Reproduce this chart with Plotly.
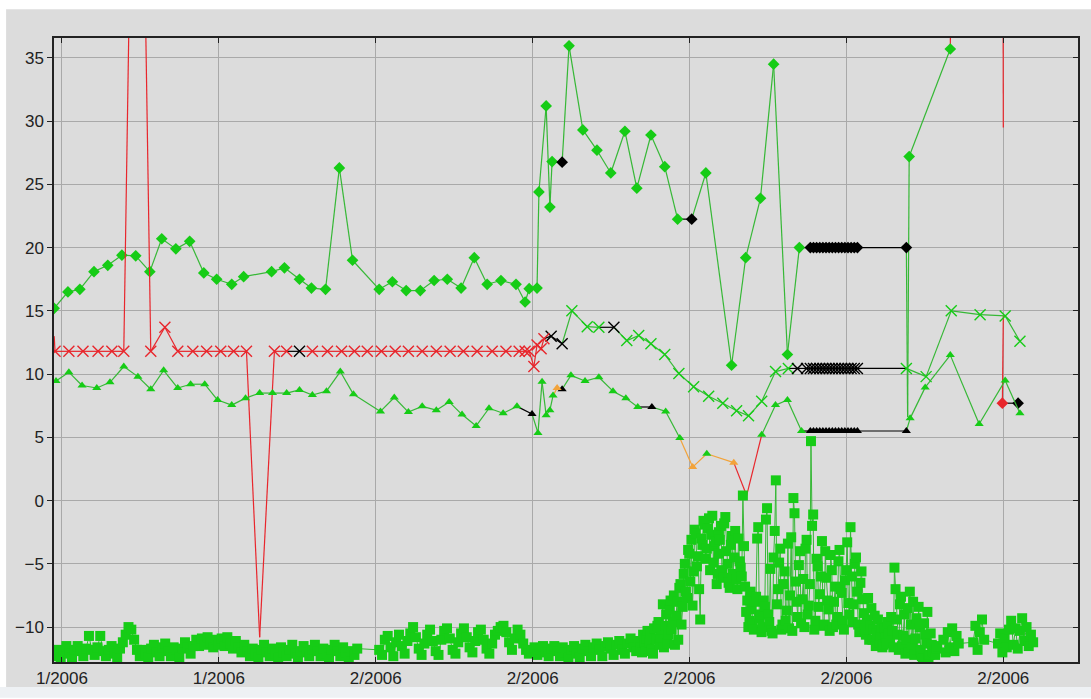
import plotly.graph_objects as go

# ---------------- styling constants ----------------
GREEN_M = "#16cc16"
GREEN_L = "#36b836"
RED = "#e8262c"
ORANGE = "#f2a33a"
BLACK = "#000000"
MCOL = {"g": GREEN_M, "k": BLACK, "r": RED, "o": ORANGE}
LCOL = {"g": GREEN_L, "k": BLACK, "r": RED, "o": ORANGE}
BG = "#dcdcdc"
GRID = "#a9a9a9"
FONT = "Liberation Sans"

# ---------------- axis data ----------------
tick_days = [0, 5, 10, 15, 20, 25, 30]
tick_labels = ["1/2006", "1/2006", "2/2006", "2/2006", "2/2006", "2/2006", "2/2006"]
y_ticks = [-10, -5, 0, 5, 10, 15, 20, 25, 30, 35]

# shared timestamps of the dense black (flagged) block
bar_t = [23.85, 23.95, 24.05, 24.15, 24.25, 24.35, 24.45, 24.55,
         24.65, 24.75, 24.85, 24.95, 25.05, 25.15, 25.25, 25.35]

# ---------------- diamond series ----------------
dia_t1 = [-0.25, 0.19, 0.57, 1.02, 1.46, 1.91, 2.35, 2.80, 3.18, 3.63, 4.07, 4.52, 4.93, 5.41, 5.79,
          6.68, 7.09, 7.57, 7.95, 8.40, 8.84, 9.26, 10.11, 10.53, 10.97, 11.42, 11.86, 12.28, 12.72,
          13.14, 13.55, 13.99, 14.47, 14.76, 14.89, 15.14, 15.20, 15.43, 15.55, 15.62, 15.94, 16.16,
          16.60, 17.05, 17.49, 17.94, 18.32, 18.77, 19.21, 19.62, 20.07, 20.52, 21.34, 21.79, 22.26,
          22.68, 23.12, 23.50]
dia_v1 = [15.2, 16.5, 16.7, 18.1, 18.6, 19.4, 19.35, 18.1, 20.7, 19.9, 20.5, 18.0, 17.5, 17.1, 17.7,
          18.1, 18.4, 17.5, 16.8, 16.7, 26.3, 19.0, 16.7, 17.3, 16.6, 16.6, 17.4, 17.5, 16.8,
          19.2, 17.1, 17.4, 17.1, 15.7, 16.75, 16.8, 24.4, 31.2, 23.2, 26.8, 26.75, 35.95,
          29.3, 27.7, 25.9, 29.2, 24.7, 28.9, 26.4, 22.25, 22.25, 25.9, 10.7, 19.2, 23.9,
          34.5, 11.55, 20.0]
dia_m1 = "g" * 40 + "k" + "g" * 9 + "k" + "g" * 7
dia_l1 = dia_m1
dia_vbar = [20.0, 20.0, 20.0, 20.0, 20.0, 20.0, 20.0, 20.0,
            20.0, 20.0, 20.0, 20.0, 20.0, 20.0, 20.0, 20.0]
dia_t3 = [26.91, 26.95, 27.00, 28.31, 28.40, 29.98, 30.00, 30.00, 30.00, 29.97, 30.47]
dia_v3 = [20.0, 6.6, 27.2, 35.7, 60.0, 60.0, 29.5, None, 14.6, 7.7, 7.7]
dia_m3 = "knggnnnnnrk"
dia_l3 = "kgggrrrnrrk"

# ---------------- cross (x) series ----------------
x_t1 = [-0.25, -0.22, 0.22, 0.67, 1.15, 1.59, 1.97, 2.40, 2.83, 3.28, 3.69, 4.17, 4.61, 5.06, 5.47,
        5.88, 6.30, 6.77, 7.16, 7.57, 7.98, 8.46, 8.91, 9.32, 9.73, 10.18, 10.62, 11.04, 11.48,
        11.93, 12.37, 12.79, 13.23, 13.71, 14.15, 14.57, 14.76, 14.89, 15.04, 15.14, 15.27, 15.36,
        15.59, 15.94, 16.25, 16.74, 17.11, 17.59, 18.00, 18.38, 18.77, 19.21, 19.66, 20.13, 20.61,
        21.06, 21.50, 21.88, 22.30, 22.74, 23.15, 23.44, 23.73]
x_v1 = [13.0, 11.8, 11.8, 11.8, 11.8, 11.8, 11.8, 80.0, 11.8, 13.7, 11.8, 11.8, 11.8, 11.8, 11.8,
        11.8, -10.8, 11.8, 11.8, 11.8, 11.8, 11.8, 11.8, 11.8, 11.8, 11.8, 11.8, 11.8, 11.8,
        11.8, 11.8, 11.8, 11.8, 11.8, 11.8, 11.8, 11.8, 11.8, 10.6, 12.3, 12.0, 12.8,
        13.0, 12.4, 15.0, 13.75, 13.7, 13.7, 12.65, 13.05, 12.4, 11.55, 10.05, 9.0, 8.25,
        7.7, 7.1, 6.7, 7.85, 10.2, 10.45, 10.45, 10.45]
x_m1 = "n" + "r" * 6 + "n" + "r" * 8 + "n" + "rr" + "k" + "r" * 22 + "kk" + "ggg" + "k" + "g" * 13 + "kk"
x_l1 = "r" * 19 + "k" + "r" * 22 + "kk" + "ggg" + "k" + "g" * 13 + "kk"
x_vbar = [10.45, 10.45, 10.45, 10.45, 10.45, 10.45, 10.45, 10.45,
          10.45, 10.45, 10.45, 10.45, 10.45, 10.45, 10.45, 10.45]
x_t3 = [26.91, 27.54, 28.34, 29.26, 30.06, 30.53]
x_v3 = [10.45, 9.8, 15.0, 14.7, 14.6, 12.6]
x_m3 = "gggggg"
x_l3 = "kggggg"

# ---------------- triangle series ----------------
tri_t1 = [-0.19, 0.22, 0.64, 1.11, 1.53, 1.97, 2.42, 2.83, 3.24, 3.69, 4.10, 4.55, 4.96, 5.41, 5.85,
          6.30, 6.71, 7.16, 7.57, 7.98, 8.43, 8.87, 9.29, 10.15, 10.59, 11.04, 11.48, 11.93, 12.34,
          12.75, 13.20, 13.61, 14.06, 14.50, 14.98, 15.17, 15.30, 15.43, 15.55, 15.65, 15.78, 15.94,
          16.22, 16.67, 17.11, 17.56, 17.97, 18.35, 18.80, 19.24, 19.69, 20.10, 20.55, 21.41, 21.82,
          22.30, 22.74, 23.12, 23.57]
tri_v1 = [9.45, 10.15, 9.1, 8.9, 9.35, 10.6, 9.8, 8.8, 10.3, 8.9, 9.2, 9.2, 7.95, 7.55, 8.1,
          8.5, 8.5, 8.5, 8.75, 8.35, 8.65, 10.2, 8.4, 7.05, 8.15, 7.0, 7.45, 7.15, 7.8,
          6.8, 5.9, 7.3, 6.9, 7.45, 6.85, 5.35, 9.4, 6.75, 7.15, 8.3, 8.9, 8.8,
          9.9, 9.45, 9.75, 8.65, 8.1, 7.4, 7.4, 7.05, 4.95, 2.65, 3.7, 3.0, 0.4,
          5.2, 7.55, 7.95, 5.5]
tri_m1 = "g" * 34 + "k" + "g" * 5 + "o" + "k" + "g" * 6 + "k" + "gg" + "o" + "g" + "o" + "n" + "g" * 4
tri_l1 = "g" * 34 + "k" + "g" * 5 + "o" + "k" + "g" * 6 + "k" + "gg" + "ooo" + "rr" + "g" * 3
tri_vbar = [5.5, 5.5, 5.5, 5.5, 5.5, 5.5, 5.5, 5.5,
            5.5, 5.5, 5.5, 5.5, 5.5, 5.5, 5.5, 5.5]
tri_t3 = [26.91, 27.03, 27.51, 28.31, 29.23, 30.06, 30.53]
tri_v3 = [5.5, 6.5, 8.95, 11.5, 6.05, 9.5, 6.9]
tri_m3 = "kgggggg"
tri_l3 = "kgggggg"

# ---------------- square series (dense readings) ----------------
# each run: (start day, sampling step in days, values); runs may interleave in time
sqA_start, sqA_step = -0.22, 0.09
sqA = [-12.3, -11.8, -12.4, -11.9, -11.5, -12.1, -12.4, -11.8, -11.5, -11.9,
       -12.3, -11.7, -10.7, -11.8, -12.2, -11.6, -10.7, -11.9, -12.3, -11.8,
       -11.5, -12.1, -12.4, -11.7, -11.2, -10.6, -10.0, -10.2, -11.0, -11.8,
       -12.3, -11.8, -12.1, -12.4, -11.7, -11.4, -12.0, -12.3, -11.6, -11.3,
       -11.9, -12.3, -11.6, -11.8, -12.4, -11.7, -11.2, -11.6, -12.1, -11.5,
       -11.0, -11.5, -10.9, -11.4, -10.8, -11.2, -11.6, -11.0, -11.4, -10.9,
       -11.5, -10.8, -11.3, -11.7, -11.1, -11.6, -12.0, -11.4, -11.9, -12.3,
       -11.7, -12.1, -12.4, -11.8, -11.4, -12.0, -12.3, -11.7, -12.1, -12.4,
       -11.6, -12.0, -12.3, -11.8, -11.4, -12.1, -12.4, -11.9, -11.5, -12.0,
       -12.3, -11.8, -11.4, -11.9, -12.3, -11.7, -12.1, -12.4, -11.8, -11.4,
       -11.9, -12.3, -11.6, -12.0, -12.4, -11.9, -12.2, -11.7]
sqB_start, sqB_step = 10.11, 0.09
sqB = [-11.8, -12.2, -11.0, -10.7, -11.6, -12.3, -11.2, -10.6, -11.5, -12.1,
       -11.1, -10.5, -10.0, -10.8, -11.7, -12.2, -11.3, -10.6, -10.2, -11.1,
       -11.9, -12.2, -11.0, -10.3, -10.1, -10.9, -11.8, -12.1, -11.2, -10.5,
       -10.1, -10.8, -11.6, -12.0, -11.1, -10.4, -10.2, -11.0, -11.7, -12.1,
       -11.3, -10.6, -10.3, -10.0, -9.9, -10.4, -11.2, -11.8, -10.9, -10.2,
       -10.6, -11.3, -11.8, -12.1, -11.9, -11.6, -12.2, -11.8, -11.5, -12.0,
       -12.3, -11.7, -11.5, -11.9, -12.3, -11.6, -12.0, -12.4, -11.8, -11.5,
       -12.1, -12.4, -11.7, -11.4, -11.9, -12.3, -11.6, -11.3, -11.8, -12.3,
       -11.5, -11.2, -11.7, -12.2, -11.4, -11.1, -11.8, -12.1, -11.3, -10.9,
       -11.6, -11.9, -11.1]
sqC_start, sqC_step = 18.45, 0.07
sqC = [-11.6, -10.6, -11.9, -10.3, -11.2, -11.8, -10.1, -11.0, -9.6, -10.8,
       -8.2, -9.9, -11.3, -8.6, -10.2, -7.5, -9.1, -11.0, -6.6, -8.4,
       -5.0, -7.7, -4.2, -3.1, -5.6, -2.6, -4.4, -9.4, -3.5, -1.9,
       -3.8, -1.4, -2.7, -4.9, -3.2, -5.8]
sqC2_start, sqC2_step = 18.485, 0.07
sqC2 = [-12.0, -11.2, -10.9, -11.7, -10.5, -12.1, -10.9, -9.9, -11.4, -10.2,
        -11.6, -9.0, -10.6, -7.9, -9.6, -11.4, -8.0, -6.9, -9.8, -5.8,
        -7.2, -3.9, -6.4, -8.3, -2.3, -5.2, -7.0, -3.0, -1.6, -4.6,
        -2.2, -5.5, -1.2, -3.6, -6.6, -2.5]
sqD_start, sqD_step = 20.93, 0.07
sqD = [-4.2, -2.0, -6.1, -1.3, -5.0, -6.9, -2.8, -4.5, -6.2, -3.0,
       -5.3, 0.4, -6.8, -7.9, -9.5, -8.6, -10.2, -7.6, -2.1, -9.0,
       -10.0, -8.4, -0.6, -9.6, -10.3, -4.5, 1.6, -7.0, -3.8, -9.8,
       -5.6, -8.7, -10.1, -2.9, 0.2, -6.4, -9.2, -4.0, -7.8, -10.0,
       -3.1, -8.3, 4.7, -1.1, -9.5, -5.2, -7.4, -3.2, -9.8, -6.1,
       -8.6, -4.3, -10.0, -6.8, -9.2, -3.9, -7.3, -10.2, -5.5, -8.1,
       -2.1, -9.6, -5.0, -7.2, -10.4, -5.6, -8.9, -10.6, -7.7, -9.9,
       -11.0, -9.1, -10.5, -11.2, -10.0, -11.4, -10.8, -9.6, -11.1, -10.3,
       -5.3, -9.4, -11.8, -7.6, -10.7, -12.1, -8.5, -7.2, -11.6, -12.2,
       -9.3, -8.4, -11.9, -12.5, -10.6, -8.8, -12.2, -11.4, -12.0, -11.7]
sqD2_start, sqD2_step = 20.965, 0.07
sqD2 = [-3.1, -5.5, -1.8, -4.0, -6.5, -3.5, -5.8, -2.4, -7.0, -4.8,
        -6.0, -3.6, -8.8, -10.0, -7.2, -9.7, -8.0, -3.0, -9.3, -10.4,
        -7.9, -1.5, -9.0, -5.4, -10.5, -2.4, -8.2, -4.9, -10.2, -6.6,
        -9.5, -3.4, -7.5, -10.3, -1.0, -8.0, -5.1, -9.7, -6.2, -3.8,
        -9.0, -6.6, -2.0, -10.2, -4.6, -8.4, -6.0, -9.9, -4.0, -7.9,
        -10.3, -5.5, -8.0, -9.8, -4.8, -7.0, -9.5, -6.3, -3.3, -9.0,
        -6.0, -8.2, -4.5, -9.8, -6.5, -7.8, -10.1, -9.4, -11.0, -8.5,
        -10.2, -11.5, -9.4, -10.7, -11.6, -10.1, -11.3, -10.5, -9.2, -11.6,
        -7.0, -10.6, -8.2, -11.5, -9.0, -11.0, -12.0, -9.8, -8.0, -10.9,
        -11.8, -10.0, -12.3, -9.7, -11.3, -12.4, -10.5, -11.9, -12.2, -11.5]
sqE1_start, sqE1_step = 28.09, 0.07
sqE1 = [-11.0, -12.0, -10.4, -11.6, -10.1, -11.9, -10.7, -11.3]
sqE2_start, sqE2_step = 29.04, 0.07
sqE2 = [-11.2, -9.9, -11.8, -10.4, -9.4, -11.0]
sqE3_start, sqE3_step = 29.83, 0.07
sqE3 = [-11.3, -10.5, -12.0, -10.9, -11.6, -10.2, -9.5, -11.4, -10.1, -11.7,
        -10.3, -9.3, -11.1, -10.0, -11.5, -10.6, -11.2]

# ---------------- figure ----------------
fig = go.Figure()


def add_series(t, v, mcodes, lcodes, symbol, size, cross=False):
    # line segments, each coloured by the state of the sample it arrives at
    for code in "gkro":
        xs, ys = [], []
        for i in range(1, len(t)):
            if lcodes[i] == code and v[i] is not None and v[i - 1] is not None:
                xs += [t[i - 1], t[i], None]
                ys += [v[i - 1], v[i], None]
        if xs:
            fig.add_trace(go.Scatter(x=xs, y=ys, mode="lines", connectgaps=False,
                                     line=dict(color=LCOL[code], width=1.2), hoverinfo="skip"))
    for code in "gkro":
        idx = [i for i in range(len(t)) if mcodes[i] == code and v[i] is not None]
        if not idx:
            continue
        if cross:
            mk = dict(symbol="x-thin", size=size, line=dict(color=MCOL[code], width=1.4))
        else:
            mk = dict(symbol=symbol, size=size, color=MCOL[code], line=dict(width=0))
        fig.add_trace(go.Scatter(x=[t[i] for i in idx], y=[v[i] for i in idx], mode="markers",
                                 marker=mk, hoverinfo="skip"))


dia_t = dia_t1 + bar_t + dia_t3
dia_v = dia_v1 + dia_vbar + dia_v3
add_series(dia_t, dia_v, dia_m1 + "k" * len(bar_t) + dia_m3, dia_l1 + "k" * len(bar_t) + dia_l3,
           "diamond", 9)

x_t = x_t1 + bar_t + x_t3
x_v = x_v1 + x_vbar + x_v3
add_series(x_t, x_v, x_m1 + "k" * len(bar_t) + x_m3, x_l1 + "k" * len(bar_t) + x_l3,
           "x-thin", 11, cross=True)

tri_t = tri_t1 + bar_t + tri_t3
tri_v = tri_v1 + tri_vbar + tri_v3
add_series(tri_t, tri_v, tri_m1 + "k" * len(bar_t) + tri_m3, tri_l1 + "k" * len(bar_t) + tri_l3,
           "triangle-up", 8)

sq_pts = []
for start, step, vals in [(sqA_start, sqA_step, sqA), (sqB_start, sqB_step, sqB),
                          (sqC_start, sqC_step, sqC), (sqC2_start, sqC2_step, sqC2),
                          (sqD_start, sqD_step, sqD), (sqD2_start, sqD2_step, sqD2),
                          (sqE1_start, sqE1_step, sqE1), (sqE2_start, sqE2_step, sqE2),
                          (sqE3_start, sqE3_step, sqE3)]:
    for i, val in enumerate(vals):
        sq_pts.append((round(start + step * i, 4), val))
sq_pts.sort(key=lambda p: p[0])
sq_t = [p[0] for p in sq_pts]
sq_v = [p[1] for p in sq_pts]
fig.add_trace(go.Scatter(x=sq_t, y=sq_v, mode="lines+markers",
                         line=dict(color=GREEN_L, width=1),
                         marker=dict(symbol="square", size=10, color=GREEN_M, line=dict(width=0)),
                         hoverinfo="skip"))

# dummy trace for right-hand tick marks
fig.add_trace(go.Scatter(x=[None], y=[None], yaxis="y2", hoverinfo="skip"))

W, H = 1091, 699
ML, MR, MT, MB = 54, 11, 38, 34
pw, ph = W - ML - MR, H - MT - MB


def px_x(p):
    return (p - ML) / pw


def px_y(p):
    return (H - MB - p) / ph


y_range = [-12.76, 36.57]
fig.update_layout(
    width=W, height=H,
    margin=dict(l=ML, r=MR, t=MT, b=MB, pad=0),
    paper_bgcolor="white",
    plot_bgcolor=BG,
    showlegend=False,
    font=dict(family=FONT, size=17, color="#222222"),
    xaxis=dict(range=[-0.254, 32.38], tickmode="array", tickvals=tick_days, ticktext=tick_labels,
               ticks="inside", ticklen=5, tickcolor="#222222", showline=True, linecolor="#222222",
               linewidth=1.5, mirror="ticks", showgrid=True, gridcolor=GRID, gridwidth=1,
               zeroline=False, tickfont=dict(family=FONT, size=17, color="#222222")),
    yaxis=dict(range=y_range, tickmode="array", tickvals=y_ticks, ticks="outside", ticklen=5,
               tickcolor="#222222", showline=True, linecolor="#222222", linewidth=1.5, mirror=True,
               showgrid=True, gridcolor=GRID, gridwidth=1, zeroline=False,
               tickfont=dict(family=FONT, size=17, color="#222222")),
    yaxis2=dict(range=y_range, overlaying="y", side="right", tickmode="array", tickvals=y_ticks,
                ticks="inside", ticklen=5, tickcolor="#222222", showticklabels=False,
                showgrid=False, zeroline=False, showline=False),
    shapes=[
        dict(type="rect", xref="paper", yref="paper", layer="below",
             x0=px_x(6), x1=px_x(W + 2), y0=px_y(690), y1=px_y(9),
             fillcolor=BG, line=dict(width=0)),
        dict(type="rect", xref="paper", yref="paper", layer="below",
             x0=px_x(-2), x1=px_x(W + 2), y0=px_y(H + 2), y1=px_y(690),
             fillcolor="#eef1f4", line=dict(width=0)),
    ],
)

fig.write_html("out.html", config={"displayModeBar": False},
               post_script="document.body.style.margin='0';document.body.style.overflow='hidden';")
